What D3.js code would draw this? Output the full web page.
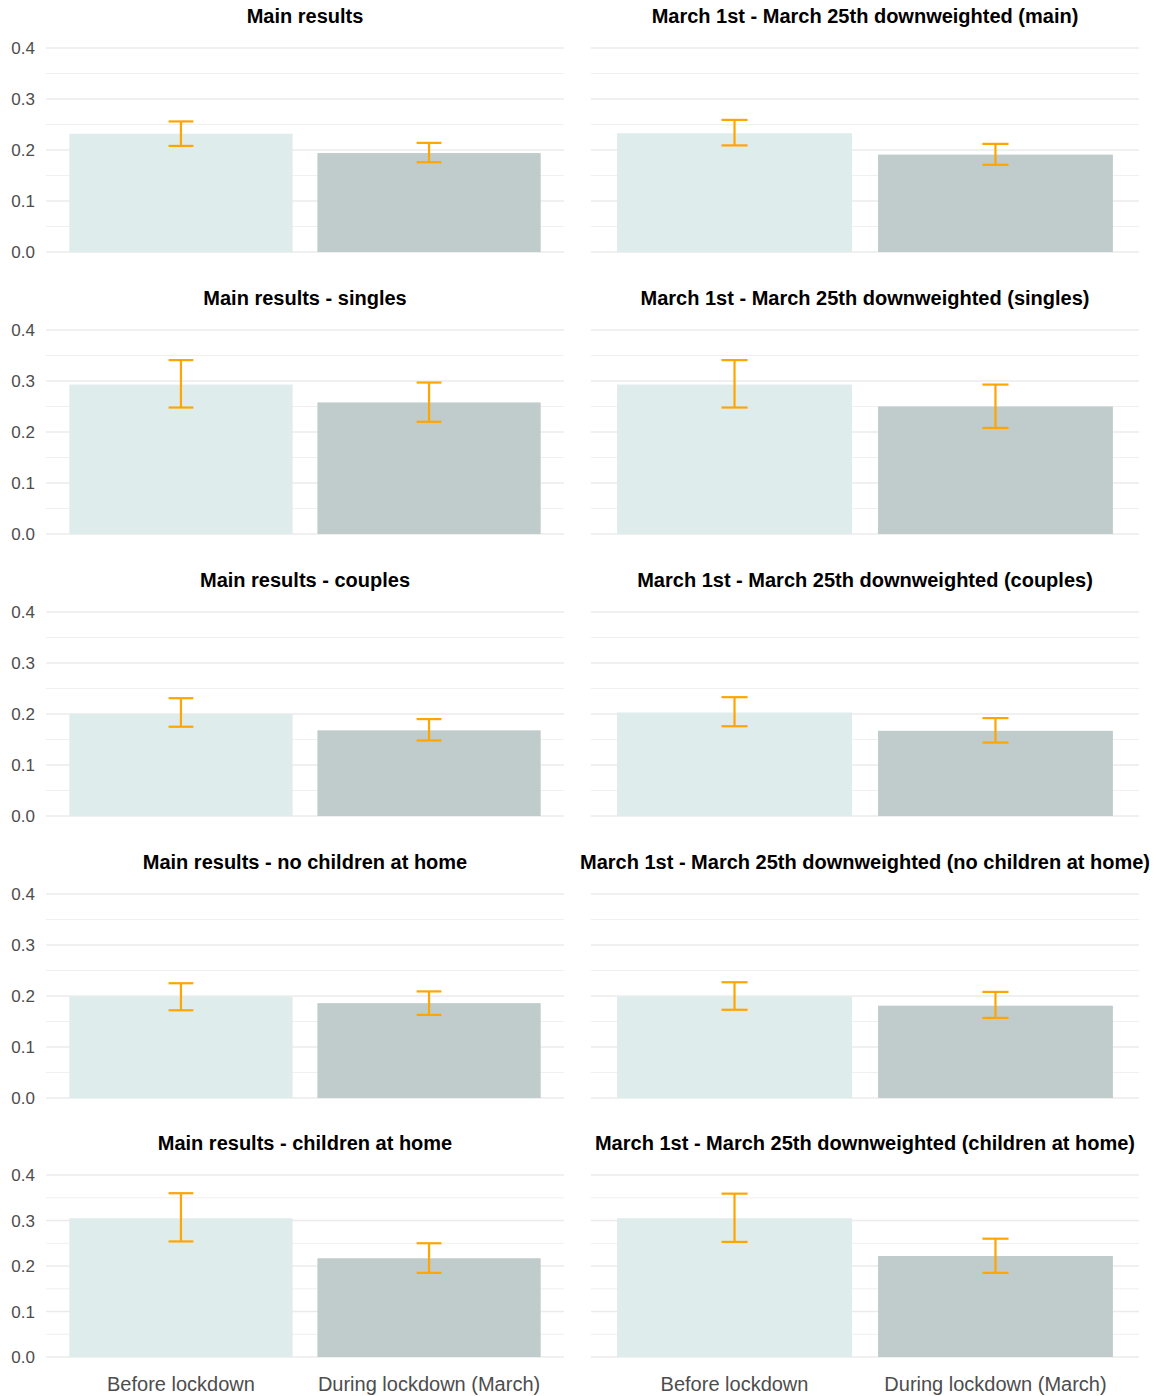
<!DOCTYPE html>
<html>
<head>
<meta charset="utf-8">
<script src="https://cdn.jsdelivr.net/npm/d3@7"></script>
<style>
  html, body { margin: 0; padding: 0; background: #ffffff; }
  svg { display: block; font-family: "Liberation Sans", Arial, sans-serif; }
</style>
</head>
<body>
<svg id="chart" width="1157" height="1396"></svg>
<script>
// ---- data ----
const categories = ["Before lockdown", "During lockdown (March)"];
const panelTitles = [
  "Main results", "March 1st - March 25th downweighted (main)",
  "Main results - singles", "March 1st - March 25th downweighted (singles)",
  "Main results - couples", "March 1st - March 25th downweighted (couples)",
  "Main results - no children at home", "March 1st - March 25th downweighted (no children at home)",
  "Main results - children at home", "March 1st - March 25th downweighted (children at home)"
];
const beforeMean = [0.232, 0.233, 0.293, 0.293, 0.200, 0.203, 0.199, 0.199, 0.305, 0.305];
const beforeLow  = [0.208, 0.209, 0.248, 0.248, 0.175, 0.176, 0.172, 0.173, 0.254, 0.253];
const beforeHigh = [0.256, 0.259, 0.341, 0.341, 0.231, 0.233, 0.225, 0.227, 0.360, 0.359];
const duringMean = [0.194, 0.191, 0.258, 0.250, 0.168, 0.167, 0.186, 0.181, 0.217, 0.222];
const duringLow  = [0.176, 0.171, 0.220, 0.208, 0.148, 0.144, 0.163, 0.157, 0.185, 0.185];
const duringHigh = [0.214, 0.212, 0.297, 0.293, 0.190, 0.192, 0.209, 0.208, 0.250, 0.260];
const majorTicks = [0, 0.1, 0.2, 0.3, 0.4];
const minorTicks = [0.05, 0.15, 0.25, 0.35];
const tickLabels = ["0.0", "0.1", "0.2", "0.3", "0.4"];

// ---- layout ----
const svg = d3.select("#chart");
const colX = [[46, 564], [591, 1139]];
const colPadOuter = [0.094, 0.1];
const rowTop = [48, 330, 612, 894, 1175];
const rowBottom = [252, 534, 816, 1098, 1357];
const barColors = ["#dfecec", "#c0cccb"];
const errColor = "#FFA500";

panelTitles.forEach((title, i) => {
  const r = Math.floor(i / 2), c = i % 2;
  const x = d3.scaleBand().domain(categories).range(colX[c]).paddingInner(0.1).paddingOuter(colPadOuter[c]);
  const y = d3.scaleLinear().domain([0, 0.4]).range([rowBottom[r], rowTop[r]]);
  const g = svg.append("g");

  // minor grid
  g.selectAll("line.minor").data(minorTicks).enter().append("line")
    .attr("x1", colX[c][0]).attr("x2", colX[c][1])
    .attr("y1", d => y(d)).attr("y2", d => y(d))
    .attr("stroke", "#f0f0f0").attr("stroke-width", 1);
  // major grid
  g.selectAll("line.major").data(majorTicks).enter().append("line")
    .attr("x1", colX[c][0]).attr("x2", colX[c][1])
    .attr("y1", d => y(d)).attr("y2", d => y(d))
    .attr("stroke", "#ebebeb").attr("stroke-width", 1.5);

  const rows = [
    { cat: categories[0], mean: beforeMean[i], lo: beforeLow[i], hi: beforeHigh[i], col: barColors[0] },
    { cat: categories[1], mean: duringMean[i], lo: duringLow[i], hi: duringHigh[i], col: barColors[1] }
  ];

  g.selectAll("rect.bar").data(rows).enter().append("rect")
    .attr("x", d => x(d.cat)).attr("width", x.bandwidth())
    .attr("y", d => y(d.mean)).attr("height", d => y(0) - y(d.mean))
    .attr("fill", d => d.col);

  const capHalf = x.step() * 0.05;
  const eb = g.selectAll("g.err").data(rows).enter().append("g")
    .attr("stroke", errColor).attr("stroke-width", 2.2).attr("fill", "none");
  eb.append("line")
    .attr("x1", d => x(d.cat) + x.bandwidth() / 2).attr("x2", d => x(d.cat) + x.bandwidth() / 2)
    .attr("y1", d => y(d.lo)).attr("y2", d => y(d.hi));
  eb.append("line")
    .attr("x1", d => x(d.cat) + x.bandwidth() / 2 - capHalf).attr("x2", d => x(d.cat) + x.bandwidth() / 2 + capHalf)
    .attr("y1", d => y(d.lo)).attr("y2", d => y(d.lo));
  eb.append("line")
    .attr("x1", d => x(d.cat) + x.bandwidth() / 2 - capHalf).attr("x2", d => x(d.cat) + x.bandwidth() / 2 + capHalf)
    .attr("y1", d => y(d.hi)).attr("y2", d => y(d.hi));

  // title
  g.append("text")
    .attr("x", (colX[c][0] + colX[c][1]) / 2).attr("y", rowTop[r] - 25)
    .attr("text-anchor", "middle").attr("font-weight", "bold")
    .attr("font-size", 20).attr("fill", "#000000").text(title);

  // y tick labels (left column only)
  if (c === 0) {
    g.selectAll("text.ytick").data(majorTicks).enter().append("text")
      .attr("x", 35).attr("y", d => y(d)).attr("dy", "0.36em")
      .attr("text-anchor", "end").attr("font-size", 17).attr("fill", "#4d4d4d")
      .text((d, k) => tickLabels[k]);
  }
  // x labels (bottom row only)
  if (r === 4) {
    g.selectAll("text.xtick").data(categories).enter().append("text")
      .attr("x", d => x(d) + x.bandwidth() / 2).attr("y", 1391)
      .attr("text-anchor", "middle").attr("font-size", 20).attr("fill", "#4d4d4d")
      .text(d => d);
  }
});
</script>
</body>
</html>
